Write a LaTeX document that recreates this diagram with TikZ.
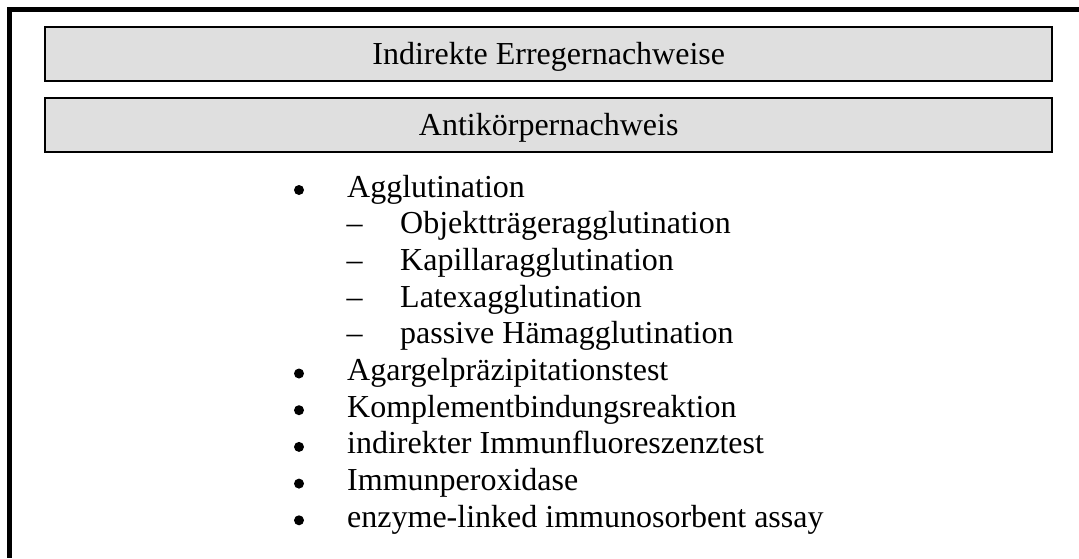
\documentclass[tikz,border=0pt]{standalone}
\usepackage{fontspec}
\setmainfont{Liberation Serif}
\definecolor{boxgray}{RGB}{223,223,223}
\tikzset{
  headbox/.style={draw=black, fill=boxgray, line width=2.5pt, minimum width=1007pt, minimum height=54pt, inner sep=0pt, text height=22pt, text depth=0.6pt, font=\fontsize{32}{36.8}\selectfont},
  itemtext/.style={anchor=base west, inner sep=0pt, font=\fontsize{32}{36.8}\selectfont},
  itemsym/.style={anchor=base, inner sep=0pt, font=\fontsize{32}{36.8}\selectfont},
  dot/.style={circle, fill=black, inner sep=0pt, minimum size=10pt}
}
\begin{document}
\begin{tikzpicture}[x=1pt,y=-1pt]
\useasboundingbox (0,0) rectangle (1079,558);
% outer frame (left and top only)
\fill[black] (7,7) rectangle (1079,12);
\fill[black] (7,7) rectangle (12,558);
% header boxes
\node[headbox] (h1) at (548.7,54.2) {Indirekte Erregernachweise};
\node[headbox] (h2) at (548.7,125.2) {Antikörpernachweis};
% list
\node[dot] (m1) at (299,190) {};
\node[itemtext] (t1) at (347,197) {Agglutination};
\node[itemsym] (d1) at (354.7,233.7) {–};
\node[itemtext] (s1) at (400,233.7) {Objektträgeragglutination};
\node[itemsym] (d2) at (354.7,270.4) {–};
\node[itemtext] (s2) at (400,270.4) {Kapillaragglutination};
\node[itemsym] (d3) at (354.7,307.1) {–};
\node[itemtext] (s3) at (400,307.1) {Latexagglutination};
\node[itemsym] (d4) at (354.7,343.8) {–};
\node[itemtext] (s4) at (400,343.8) {passive Hämagglutination};
\node[dot] (m2) at (299,373.5) {};
\node[itemtext] (t2) at (347,380.5) {Agargelpräzipitationstest};
\node[dot] (m3) at (299,410.2) {};
\node[itemtext] (t3) at (347,417.2) {Komplementbindungsreaktion};
\node[dot] (m4) at (299,446.9) {};
\node[itemtext] (t4) at (347,453.9) {indirekter Immunfluoreszenztest};
\node[dot] (m5) at (299,483.6) {};
\node[itemtext] (t5) at (347,490.6) {Immunperoxidase};
\node[dot] (m6) at (299,520.3) {};
\node[itemtext] (t6) at (347,527.3) {enzyme-linked immunosorbent assay};
\end{tikzpicture}
\end{document}
